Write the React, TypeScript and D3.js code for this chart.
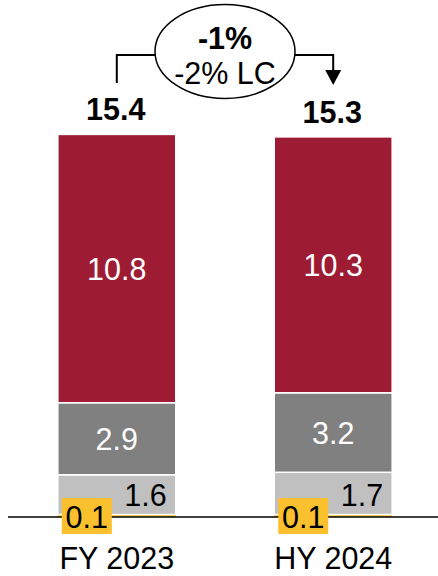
import React from "react";
import * as d3 from "d3";

const categories = ["FY 2023", "HY 2024"];
const otherValues = [0.1, 0.1];
const lightValues = [1.6, 1.7];
const darkValues = [2.9, 3.2];
const mainValues = [10.8, 10.3];
const totals = [15.4, 15.3];
const changeMain = "-1%";
const changeLC = "-2% LC";

const W = 438;
const H = 576;
const FS = 30.5;
const FONT = "'Liberation Sans', Arial, Helvetica, sans-serif";
const colors = ["#FBC02D", "#C0C0C0", "#808080", "#9E1B34"];
const textColors = ["#000", "#000", "#fff", "#fff"];

export default function App() {
  const x = d3.scaleBand<string>().domain(categories).range([10, 440]).paddingInner(0.455).paddingOuter(0.221);
  const y = d3.scaleLinear().domain([0, 16]).range([517, 119.5]);

  const rows = categories.map((c, i) => ({
    cat: c,
    v: [otherValues[i], lightValues[i], darkValues[i], mainValues[i]],
  }));
  const stack = d3.stack<any>().keys([0, 1, 2, 3] as any).value((d: any, k: any) => d.v[k]);
  const series = stack(rows);

  const bw = x.bandwidth();
  const cx = (c: string) => (x(c) as number) + bw / 2;

  const ell = { cx: 225, cy: 51.5, rx: 70, ry: 47 };
  const lineY = 55;
  const leftX = cx(categories[0]);
  const rightX = cx(categories[1]);
  const fmt = d3.format(".1f");

  return (
    <svg width={W} height={H} style={{ position: "absolute", left: 0, top: 0 }} fontFamily={FONT}>
      <rect width={W} height={H} fill="#fff" />
      {series.map((s, si) =>
        s.map((d, i) => {
          const c = categories[i];
          const y0 = y(d[0]);
          const y1 = y(d[1]);
          return (
            <rect
              key={`${si}-${i}`}
              x={x(c)}
              y={y1}
              width={bw}
              height={y0 - y1}
              fill={colors[si]}
              stroke={si === 0 ? "none" : "#fff"}
              strokeWidth={1.5}
            />
          );
        })
      )}
      {series.map((s, si) =>
        si < 2
          ? null
          : s.map((d, i) => {
              const c = categories[i];
              const my = (y(d[0]) + y(d[1])) / 2;
              return (
                <text key={`l${si}-${i}`} x={cx(c)} y={my + 11} textAnchor="middle" fontSize={FS} fill={textColors[si]}>
                  {fmt(d.data.v[si])}
                </text>
              );
            })
      )}
      {series[1].map((d, i) => {
        const c = categories[i];
        return (
          <text key={`lg${i}`} x={(x(c) as number) + bw - 9} y={506} textAnchor="end" fontSize={FS} fill="#000">
            {fmt(d.data.v[1])}
          </text>
        );
      })}
      <line x1={8} x2={438} y1={y(0)} y2={y(0)} stroke="#000" strokeWidth={1.5} />
      {categories.map((c, i) => {
        const bx = (x(c) as number) + 4;
        return (
          <g key={`y${i}`}>
            <rect x={bx} y={498} width={50} height={36} fill={colors[0]} />
            <text x={bx + 25} y={527.5} textAnchor="middle" fontSize={FS} fill="#000">
              {fmt(otherValues[i])}
            </text>
          </g>
        );
      })}
      {categories.map((c, i) => (
        <text key={`t${i}`} x={cx(c) - 1} y={y(totals[i]) - 14} textAnchor="middle" fontSize={FS} fontWeight="bold" fill="#000">
          {fmt(totals[i])}
        </text>
      ))}
      {categories.map((c) => (
        <text key={c} x={cx(c)} y={569} textAnchor="middle" fontSize={FS} fill="#000">
          {c}
        </text>
      ))}
      <path d={`M${leftX},83 L${leftX},${lineY} L${ell.cx - ell.rx},${lineY}`} fill="none" stroke="#000" strokeWidth={2} />
      <path d={`M${ell.cx + ell.rx},${lineY} L${rightX},${lineY} L${rightX},72`} fill="none" stroke="#000" strokeWidth={2} />
      <path d={`M${rightX - 8},70 L${rightX + 8},70 L${rightX},85 Z`} fill="#000" />
      <ellipse cx={ell.cx} cy={ell.cy} rx={ell.rx} ry={ell.ry} fill="#fff" stroke="#000" strokeWidth={1.5} />
      <text x={ell.cx} y={49} textAnchor="middle" fontSize={FS} fontWeight="bold" fill="#000">
        {changeMain}
      </text>
      <text x={ell.cx} y={84} textAnchor="middle" fontSize={FS} fill="#000">
        {changeLC}
      </text>
    </svg>
  );
}
